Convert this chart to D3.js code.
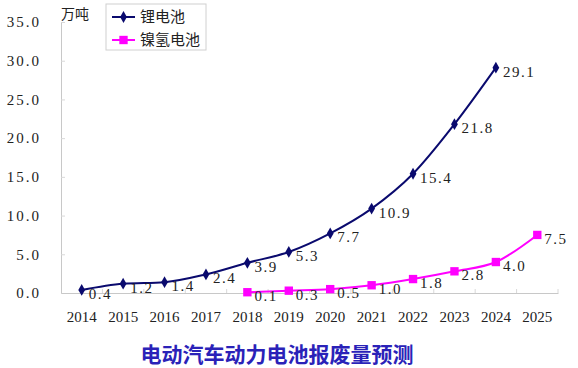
<!DOCTYPE html>
<html>
<head>
<meta charset="utf-8">
<script src="https://cdn.jsdelivr.net/npm/d3@7"></script>
<style>
  body { margin: 0; background: #fff; }
  svg text { font-family: "Liberation Serif", "DejaVu Serif", serif; }
  .cjk { font-family: "Noto Sans CJK SC", sans-serif; }
</style>
</head>
<body>
<svg id="chart"></svg>
<script>
// data
const years = ["2014","2015","2016","2017","2018","2019","2020","2021","2022","2023","2024","2025"];
const liYears = ["2014","2015","2016","2017","2018","2019","2020","2021","2022","2023","2024"];
const liValues = [0.4, 1.2, 1.4, 2.4, 3.9, 5.3, 7.7, 10.9, 15.4, 21.8, 29.1];
const niYears = ["2018","2019","2020","2021","2022","2023","2024","2025"];
const niValues = [0.1, 0.3, 0.5, 1.0, 1.8, 2.8, 4.0, 7.5];
const yTicks = [0, 5, 10, 15, 20, 25, 30, 35];

const svgWidth = 578, svgHeight = 368;
const margin = {top: 22, right: 20, bottom: 75, left: 61};

const chart = d3.select("#chart")
    .attr("width", svgWidth)
    .attr("height", svgHeight);

var xScale = d3.scaleBand().domain(years).range([margin.left, svgWidth - margin.right]);
var yScale = d3.scaleLinear().domain([0, 35]).range([svgHeight - margin.bottom, margin.top]);
var cx = function(y) { return xScale(y) + xScale.bandwidth() / 2; };

var fmt = d3.format(".1f");

// y axis
var yAxis = chart.append("g")
    .attr("transform", "translate(" + margin.left + ",0)")
    .call(d3.axisLeft(yScale).tickValues(yTicks).tickSize(-4).tickPadding(20).tickFormat(fmt));
yAxis.select(".domain").attr("stroke", "#c8c8c8");
yAxis.selectAll(".tick line").attr("stroke", "#d8d8d8");
yAxis.selectAll(".tick text").attr("font-size", 15).attr("fill", "#222").style("letter-spacing", "2px")
    .attr("font-family", "Liberation Serif, serif");

// x axis
var xAxis = chart.append("g")
    .attr("transform", "translate(0," + yScale(0) + ")")
    .call(d3.axisBottom(xScale).tickSize(0).tickPadding(18));
xAxis.select(".domain").attr("stroke", "#c8c8c8");
xAxis.selectAll(".tick text").attr("font-size", 15).attr("fill", "#222")
    .attr("font-family", "Liberation Serif, serif");
// small ticks at category boundaries
chart.append("g").selectAll("line")
    .data(years)
    .enter().append("line")
    .attr("x1", function(d) { return xScale(d) + xScale.bandwidth(); })
    .attr("x2", function(d) { return xScale(d) + xScale.bandwidth(); })
    .attr("y1", yScale(0))
    .attr("y2", yScale(0) - 4)
    .attr("stroke", "#d8d8d8");

var line = d3.line()
    .x(function(d) { return cx(d.year); })
    .y(function(d) { return yScale(d.value); })
    .curve(d3.curveMonotoneX);

function drawSeries(yrs, vals, color, marker) {
    var pts = yrs.map(function(y, i) { return {year: y, value: vals[i]}; });
    chart.append("path")
        .datum(pts)
        .attr("d", line)
        .attr("fill", "none")
        .attr("stroke", color)
        .attr("stroke-width", 2);
    chart.append("g").selectAll("path")
        .data(pts).enter().append("path")
        .attr("transform", function(d) { return "translate(" + cx(d.year) + "," + yScale(d.value) + ")"; })
        .attr("d", marker)
        .attr("fill", color);
    chart.append("g").selectAll("text")
        .data(pts).enter().append("text")
        .attr("x", function(d) { return cx(d.year) + 7; })
        .attr("y", function(d) { return yScale(d.value) + 9; })
        .attr("font-size", 15)
        .attr("fill", "#222")
        .style("letter-spacing", "1.5px")
        .text(function(d) { return fmt(d.value); });
}

var diamond = d3.symbol().type(d3.symbolDiamond).size(40)();
var square = d3.symbol().type(d3.symbolSquare).size(70)();

drawSeries(liYears, liValues, "#0a0a6e", diamond);
drawSeries(niYears, niValues, "#ff00ff", square);

// unit label
chart.append("text").attr("class", "cjk")
    .attr("x", 61).attr("y", 19)
    .attr("font-size", 14).attr("fill", "#222")
    .text("万吨");

// legend
var legend = chart.append("g").attr("transform", "translate(106,4)");
legend.append("rect").attr("width", 100).attr("height", 46)
    .attr("fill", "#fff").attr("stroke", "#d0d0d0");
var legendItems = [
    {name: "锂电池", color: "#0a0a6e", marker: diamond},
    {name: "镍氢电池", color: "#ff00ff", marker: square}
];
legendItems.forEach(function(d, i) {
    var gy = 13 + i * 23;
    legend.append("line").attr("x1", 6).attr("x2", 29).attr("y1", gy).attr("y2", gy)
        .attr("stroke", d.color).attr("stroke-width", 2);
    legend.append("path").attr("d", d.marker).attr("fill", d.color)
        .attr("transform", "translate(17.5," + gy + ")");
    legend.append("text").attr("class", "cjk")
        .attr("x", 34).attr("y", gy + 5)
        .attr("font-size", 15).attr("fill", "#222")
        .text(d.name);
});

// title
chart.append("text").attr("class", "cjk")
    .attr("x", 277).attr("y", 362)
    .attr("text-anchor", "middle")
    .attr("font-size", 21).attr("font-weight", "bold")
    .attr("fill", "#2a22b8")
    .text("电动汽车动力电池报废量预测");
</script>
</body>
</html>
